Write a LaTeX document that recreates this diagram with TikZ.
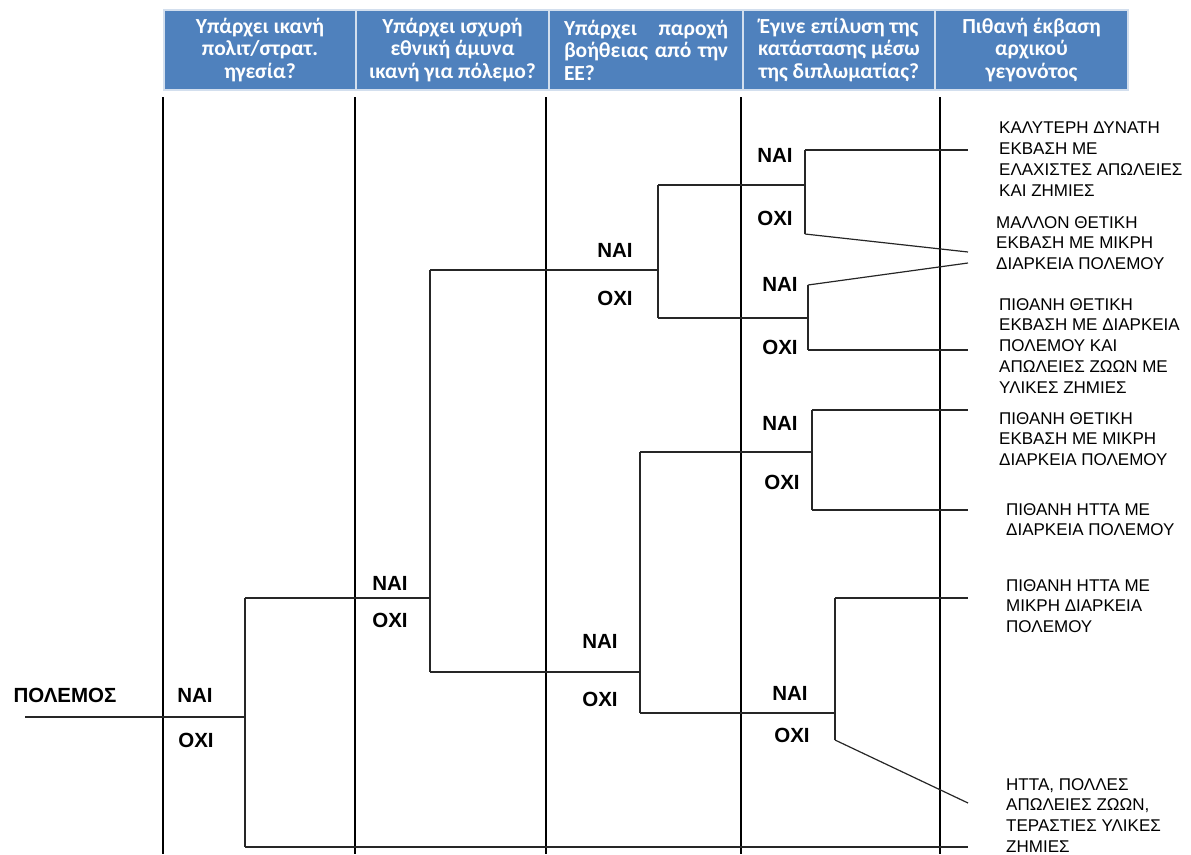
\documentclass[tikz,border=0pt]{standalone}
\usepackage{fontspec}
\setmainfont{Liberation Sans}
\newfontfamily\headfont{Carlito}
\definecolor{headblue}{HTML}{4F81BD}
\tikzset{
  head/.style={fill=headblue, draw=white!75!headblue, line width=1.5pt,
    minimum height=80pt, inner sep=0pt, text=white, align=center,
    font=\headfont\bfseries\fontsize{21.5}{22.5}\selectfont},
  column/.style={line width=2.2pt},
  branch/.style={line width=1.2pt, black!85},
  yesno/.style={font=\bfseries\fontsize{20.5}{22}\selectfont, inner sep=0pt},
  outcome/.style={anchor=north west, inner sep=0pt, align=left,
    font=\fontsize{17}{20.8}\selectfont}
}
\begin{document}
\begin{tikzpicture}[x=1pt, y=-1pt]
  \useasboundingbox (0,0) rectangle (1191,854);
  % header row
  \node[head, minimum width=192pt] (h1) at (260,50) {Υπάρχει ικανή\\πολιτ/στρατ.\\ηγεσία?};
  \node[head, minimum width=193pt] (h2) at (452.5,50) {Υπάρχει ισχυρή\\εθνική άμυνα\\ικανή για πόλεμο?};
  \node[head, minimum width=194pt, text width=164pt, align=left] (h3) at (646,50)
    {Υπάρχει\hfill παροχή\\βοήθειας\hfill από\hfill την\\ΕΕ?};
  \node[head, minimum width=192pt] (h4) at (839,50) {Έγινε επίλυση της\\κατάστασης μέσω\\της διπλωματίας?};
  \node[head, minimum width=193pt] (h5) at (1031.5,50) {Πιθανή έκβαση\\αρχικού\\γεγονότος};

  % columns
  \foreach \x in {163,355,546,741,940}
    \draw[column] (\x,97) -- (\x,854);

  % decision points
  \coordinate (war) at (25,717);
  \coordinate (q1) at (245,717);
  \coordinate (q1y) at (245,598);
  \coordinate (q1n) at (245,847);
  \coordinate (q2) at (430,598);
  \coordinate (q2y) at (430,270);
  \coordinate (q2n) at (430,672);
  \coordinate (q3a) at (658,270);
  \coordinate (q3ay) at (658,185);
  \coordinate (q3an) at (658,318);
  \coordinate (q3b) at (640,672);
  \coordinate (q3by) at (640,452);
  \coordinate (q3bn) at (640,713);
  \coordinate (q4a) at (805,185);
  \coordinate (q4ay) at (805,150);
  \coordinate (q4an) at (805,234);
  \coordinate (q4b) at (808,318);
  \coordinate (q4by) at (808,285);
  \coordinate (q4bn) at (808,350);
  \coordinate (q4c) at (812,452);
  \coordinate (q4cy) at (812,410);
  \coordinate (q4cn) at (812,510);
  \coordinate (q4d) at (835,713);
  \coordinate (q4dy) at (835,598);
  \coordinate (q4dn) at (835,740);
  % ends
  \coordinate (e1) at (968,150);
  \coordinate (e2) at (968,252);
  \coordinate (e3) at (968,263);
  \coordinate (e4) at (968,350);
  \coordinate (e5) at (968,410);
  \coordinate (e6) at (968,510);
  \coordinate (e7) at (968,598);
  \coordinate (e8) at (968,803);
  \coordinate (e9) at (968,847);

  % tree
  \draw[branch] (war) -- (q1);
  \draw[branch] (q1y) -- (q1n);
  \draw[branch] (q1y) -- (q2);
  \draw[branch] (q1n) -- (e9);
  \draw[branch] (q2y) -- (q2n);
  \draw[branch] (q2y) -- (q3a);
  \draw[branch] (q2n) -- (q3b);
  \draw[branch] (q3ay) -- (q3an);
  \draw[branch] (q3ay) -- (q4a);
  \draw[branch] (q3an) -- (q4b);
  \draw[branch] (q3by) -- (q3bn);
  \draw[branch] (q3by) -- (q4c);
  \draw[branch] (q3bn) -- (q4d);
  \draw[branch] (q4ay) -- (q4an);
  \draw[branch] (q4ay) -- (e1);
  \draw[branch] (q4an) -- (e2);
  \draw[branch] (q4by) -- (q4bn);
  \draw[branch] (q4by) -- (e3);
  \draw[branch] (q4bn) -- (e4);
  \draw[branch] (q4cy) -- (q4cn);
  \draw[branch] (q4cy) -- (e5);
  \draw[branch] (q4cn) -- (e6);
  \draw[branch] (q4dy) -- (q4dn);
  \draw[branch] (q4dy) -- (e7);
  \draw[branch] (q4dn) -- (e8);

  % labels
  \node[yesno] (war-lbl) at (65,695) {ΠΟΛΕΜΟΣ};
  \node[yesno] (y1) at (195,695) {ΝΑΙ};
  \node[yesno] (n1) at (196,740) {ΟΧΙ};
  \node[yesno] (y2) at (390,583) {ΝΑΙ};
  \node[yesno] (n2) at (390,620) {ΟΧΙ};
  \node[yesno] (y3a) at (615,250) {ΝΑΙ};
  \node[yesno] (n3a) at (615,298) {ΟΧΙ};
  \node[yesno] (y3b) at (600,641) {ΝΑΙ};
  \node[yesno] (n3b) at (600,699) {ΟΧΙ};
  \node[yesno] (y4a) at (775,155) {ΝΑΙ};
  \node[yesno] (n4a) at (775,218) {ΟΧΙ};
  \node[yesno] (y4b) at (780,284) {ΝΑΙ};
  \node[yesno] (n4b) at (780,347) {ΟΧΙ};
  \node[yesno] (y4c) at (780,423) {ΝΑΙ};
  \node[yesno] (n4c) at (782,482) {ΟΧΙ};
  \node[yesno] (y4d) at (790,693) {ΝΑΙ};
  \node[yesno] (n4d) at (792,735) {ΟΧΙ};

  % outcomes
  \node[outcome] (o1) at (999,122) {ΚΑΛΥΤΕΡΗ ΔΥΝΑΤΗ\\ΕΚΒΑΣΗ ΜΕ\\ΕΛΑΧΙΣΤΕΣ ΑΠΩΛΕΙΕΣ\\ΚΑΙ ΖΗΜΙΕΣ};
  \node[outcome] (o2) at (996,216) {ΜΑΛΛΟΝ ΘΕΤΙΚΗ\\ΕΚΒΑΣΗ ΜΕ ΜΙΚΡΗ\\ΔΙΑΡΚΕΙΑ ΠΟΛΕΜΟΥ};
  \node[outcome] (o3) at (999,298) {ΠΙΘΑΝΗ ΘΕΤΙΚΗ\\ΕΚΒΑΣΗ ΜΕ ΔΙΑΡΚΕΙΑ\\ΠΟΛΕΜΟΥ ΚΑΙ\\ΑΠΩΛΕΙΕΣ ΖΩΩΝ ΜΕ\\ΥΛΙΚΕΣ ΖΗΜΙΕΣ};
  \node[outcome] (o4) at (999,412) {ΠΙΘΑΝΗ ΘΕΤΙΚΗ\\ΕΚΒΑΣΗ ΜΕ ΜΙΚΡΗ\\ΔΙΑΡΚΕΙΑ ΠΟΛΕΜΟΥ};
  \node[outcome] (o5) at (1006,503) {ΠΙΘΑΝΗ ΗΤΤΑ ΜΕ\\ΔΙΑΡΚΕΙΑ ΠΟΛΕΜΟΥ};
  \node[outcome] (o6) at (1006,579) {ΠΙΘΑΝΗ ΗΤΤΑ ΜΕ\\ΜΙΚΡΗ ΔΙΑΡΚΕΙΑ\\ΠΟΛΕΜΟΥ};
  \node[outcome] (o7) at (1006,778) {ΗΤΤΑ, ΠΟΛΛΕΣ\\ΑΠΩΛΕΙΕΣ ΖΩΩΝ,\\ΤΕΡΑΣΤΙΕΣ ΥΛΙΚΕΣ\\ΖΗΜΙΕΣ};
\end{tikzpicture}
\end{document}
